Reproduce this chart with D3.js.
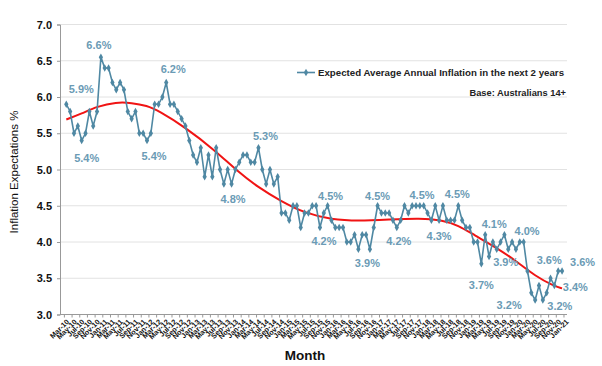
<!DOCTYPE html>
<html>
<head>
<meta charset="utf-8">
<script src="https://cdn.jsdelivr.net/npm/d3@7"></script>
<style>
  body { margin: 0; background: #fff; }
  svg { font-family: Arial, "Liberation Sans", sans-serif; }
</style>
</head>
<body>
<svg width="602" height="366"></svg>
<script>

// -----------------------------
// DATA
// -----------------------------
// months on the category axis: Mar-10 ... Jan-21
let months = d3.timeMonth.range(new Date(2010, 2, 1), new Date(2021, 1, 1))
               .map(d3.timeFormat("%b-%y"));

let v2010 = [5.9, 5.8, 5.5, 5.6, 5.4, 5.5, 5.8, 5.6, 5.8, 6.55];
let v2011 = [6.4, 6.4, 6.2, 6.1, 6.2, 6.1, 5.8, 5.7, 5.8, 5.5, 5.5, 5.4];
let v2012 = [5.5, 5.9, 5.9, 6.0, 6.2, 5.9, 5.9, 5.8, 5.7, 5.6, 5.4, 5.2];
let v2013 = [5.1, 5.3, 4.9, 5.2, 4.9, 5.3, 5.0, 4.8, 5.0, 4.8, 5.0, 5.1];
let v2014 = [5.2, 5.2, 5.1, 5.1, 5.3, 5.0, 4.8, 5.0, 4.8, 4.9, 4.4, 4.4];
let v2015 = [4.3, 4.5, 4.5, 4.2, 4.4, 4.4, 4.5, 4.5, 4.2, 4.4, 4.5, 4.3];
let v2016 = [4.2, 4.2, 4.2, 4.0, 4.0, 4.1, 3.9, 4.1, 4.1, 3.9, 4.2, 4.5];
let v2017 = [4.4, 4.4, 4.4, 4.3, 4.2, 4.3, 4.5, 4.4, 4.5, 4.5, 4.5, 4.5];
let v2018 = [4.4, 4.3, 4.5, 4.3, 4.5, 4.3, 4.3, 4.3, 4.5, 4.3, 4.2, 4.2];
let v2019 = [4.0, 4.0, 3.7, 4.1, 3.8, 4.0, 3.9, 4.0, 4.1, 3.9, 4.0, 3.9];
let v2020 = [4.0, 4.0, 3.6, 3.3, 3.2, 3.4, 3.2, 3.3, 3.5, 3.4, 3.6, 3.6];

let values = [].concat(v2010, v2011, v2012, v2013, v2014, v2015,
                       v2016, v2017, v2018, v2019, v2020);

// trend line (red) read at a few months
let trendMonths = ["Mar-10", "Jul-10", "Nov-10", "Apr-11", "Aug-11", "Dec-11", "Mar-12",
                   "Oct-12", "Jun-13", "Nov-13", "May-14", "Nov-14", "May-15", "Dec-15",
                   "Jul-16", "Mar-17", "Nov-17", "May-18", "Sep-18", "Jan-19", "Jul-19",
                   "Dec-19", "May-20", "Oct-20", "Dec-20"];
let trendValues = [5.69, 5.77, 5.87, 5.93, 5.92, 5.88, 5.81,
                   5.58, 5.25, 5.0, 4.75, 4.56, 4.40, 4.31,
                   4.29, 4.31, 4.33, 4.30, 4.23, 4.10, 3.92,
                   3.74, 3.53, 3.39, 3.36];

// data labels
let labelMonths = ["Dec-10", "Mar-10", "Jul-10", "Dec-11", "May-12", "Oct-13", "May-14",
                   "Nov-15", "Sep-15", "Oct-16", "Dec-16", "May-17", "Oct-17", "Sep-18",
                   "Apr-18", "Apr-19", "Mar-19", "Jul-19", "Feb-20", "May-20", "Nov-20",
                   "Jul-20", "Oct-20", "Dec-20"];
let labelTexts = ["6.6%", "5.9%", "5.4%", "5.4%", "6.2%", "4.8%", "5.3%",
                  "4.5%", "4.2%", "3.9%", "4.5%", "4.2%", "4.5%", "4.5%",
                  "4.3%", "4.1%", "3.7%", "3.9%", "4.0%", "3.2%", "3.6%",
                  "3.2%", "3.4%", "3.6%"];

let yTicks = [3.0, 3.5, 4.0, 4.5, 5.0, 5.5, 6.0, 6.5, 7.0];

// -----------------------------
// SETUP
// -----------------------------
let svg = d3.select("svg");

let plot = { left: 60, right: 567, top: 24.5, bottom: 314.5 };

let lineColor = "#4f88a3",
    labelColor = "#6b9bb5";

// -----------------------------
// SCALES
// -----------------------------
let xScale = d3.scalePoint()
               .domain(months)
               .range([66.3, 565.9]);

let yScale = d3.scaleLinear()
               .domain([3, 7])
               .range([plot.bottom, plot.top]);

let step = xScale.step();

// -----------------------------
// GRID + AXES
// -----------------------------
svg.append("g")
   .selectAll("line")
   .data(yTicks.filter(d => d > 3))
   .enter()
   .append("line")
   .attr("x1", plot.left)
   .attr("x2", plot.right)
   .attr("y1", d => yScale(d))
   .attr("y2", d => yScale(d))
   .attr("stroke", "#e2e2e2")
   .attr("stroke-width", 1);

let yAxis = svg.append("g")
   .attr("transform", `translate(${plot.left}, 0)`)
   .call(d3.axisLeft(yScale).tickValues(yTicks).tickFormat(d3.format(".1f")).tickSize(3).tickPadding(5));

yAxis.select(".domain").attr("stroke", "#999");
yAxis.selectAll(".tick line").attr("stroke", "#999");
yAxis.selectAll("text")
     .style("font-size", "11px")
     .style("font-weight", "bold")
     .attr("fill", "#111");

let labelled = months.filter((m, i) => i % 2 === 0);

let xAxis = svg.append("g")
   .attr("transform", `translate(0, ${plot.bottom})`);

xAxis.append("line")
     .attr("x1", plot.left)
     .attr("x2", plot.right)
     .attr("stroke", "#999");

xAxis.selectAll(".xtick")
     .data(labelled)
     .enter()
     .append("line")
     .attr("class", "xtick")
     .attr("x1", d => xScale(d) - step / 2)
     .attr("x2", d => xScale(d) - step / 2)
     .attr("y1", 0)
     .attr("y2", 3)
     .attr("stroke", "#999");

xAxis.selectAll(".xlabel")
     .data(labelled)
     .enter()
     .append("text")
     .attr("class", "xlabel")
     .attr("transform", d => `translate(${xScale(d) + 1.5}, 6) rotate(-45)`)
     .attr("text-anchor", "end")
     .attr("dy", "0.35em")
     .style("font-size", "7.3px")
     .style("font-weight", "bold")
     .attr("fill", "#111")
     .text(d => d);

// -----------------------------
// LABELS
// -----------------------------
svg.append("text")
   .attr("x", 305)
   .attr("y", 360)
   .attr("text-anchor", "middle")
   .style("font-size", "13.5px")
   .style("font-weight", "bold")
   .attr("fill", "#111")
   .text("Month");

svg.append("text")
   .attr("transform", "translate(18, 172) rotate(-90)")
   .attr("text-anchor", "middle")
   .style("font-size", "11.5px")
   .attr("fill", "#111")
   .text("Inflation Expectations %");

// -----------------------------
// TREND + SERIES
// -----------------------------
let trend = trendMonths.map((m, i) => ({ m: m, v: trendValues[i] }));

svg.append("path")
   .datum(trend)
   .attr("fill", "none")
   .attr("stroke", "#f01414")
   .attr("stroke-width", 2)
   .attr("d", d3.line()
                .x(d => xScale(d.m))
                .y(d => yScale(d.v))
                .curve(d3.curveBasis));

let series = values.map((v, i) => ({ m: months[i], v: v }));

svg.append("path")
   .datum(series)
   .attr("fill", "none")
   .attr("stroke", lineColor)
   .attr("stroke-width", 1.6)
   .attr("d", d3.line().x(d => xScale(d.m)).y(d => yScale(d.v)));

let diamond = d3.symbol().type(d3.symbolDiamond).size(16);

svg.append("g")
   .selectAll("path")
   .data(series)
   .enter()
   .append("path")
   .attr("transform", d => `translate(${xScale(d.m)}, ${yScale(d.v)})`)
   .attr("d", diamond)
   .attr("fill", lineColor);

// -----------------------------
// DATA LABELS
// -----------------------------
let labelOffsets = [[-2, -12], [15, -15], [5, 18], [7, 16], [7, -13], [1.5, 15], [7, -12],
                    [3, -10], [4, 14], [-2.5, 14], [0, -10], [2, 14], [6, -11], [-1, -12],
                    [0, 16], [9, -11], [0, 21], [9, 13], [3.5, -10.5], [-26, 5.5], [-9, -10.5],
                    [17, 6], [21, 2], [20.5, -9]];

let valueOf = m => values[months.indexOf(m)];

svg.append("g")
   .selectAll("text")
   .data(labelMonths)
   .enter()
   .append("text")
   .attr("x", (m, i) => xScale(m) + labelOffsets[i][0])
   .attr("y", (m, i) => yScale(valueOf(m)) + labelOffsets[i][1])
   .attr("dy", "0.35em")
   .attr("text-anchor", "middle")
   .style("font-size", "11px")
   .style("font-weight", "bold")
   .attr("fill", labelColor)
   .text((m, i) => labelTexts[i]);

// -----------------------------
// LEGEND
// -----------------------------
let legend = svg.append("g");

legend.append("line")
      .attr("x1", 297).attr("x2", 315)
      .attr("y1", 72.5).attr("y2", 72.5)
      .attr("stroke", lineColor)
      .attr("stroke-width", 1.6);

legend.append("path")
      .attr("transform", "translate(306, 72.5)")
      .attr("d", diamond)
      .attr("fill", lineColor);

legend.append("text")
      .attr("x", 318)
      .attr("y", 72.5)
      .attr("dy", "0.35em")
      .style("font-size", "9.7px")
      .style("font-weight", "bold")
      .attr("fill", "#222")
      .text("Expected Average Annual Inflation in the next 2 years");

legend.append("text")
      .attr("x", 566)
      .attr("y", 93)
      .attr("dy", "0.35em")
      .attr("text-anchor", "end")
      .style("font-size", "9.3px")
      .style("font-weight", "bold")
      .attr("fill", "#222")
      .text("Base: Australians 14+");

</script>
</body>
</html>
